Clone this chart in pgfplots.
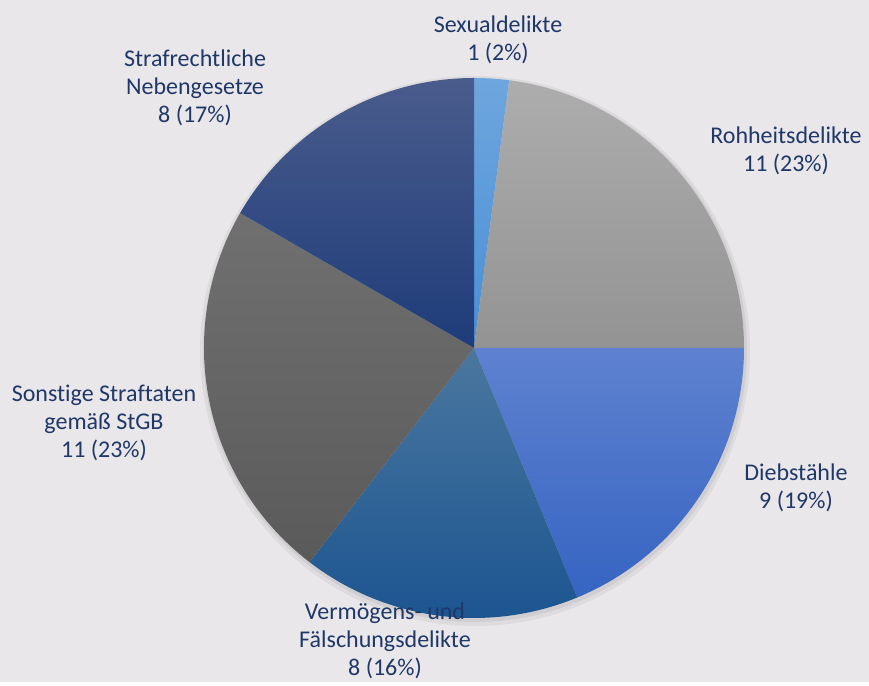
\documentclass[border=0pt]{standalone}
\usepackage{pgfplots}
\usepackage{pgfplotstable}
\usepackage{fontspec}
\setmainfont[Ligatures=NoCommon]{Carlito}
\pgfplotsset{compat=1.18}

\definecolor{bgc}{HTML}{E9E7E9}
\definecolor{txt}{HTML}{1F3868}
% slice gradients, top / bottom
\definecolor{top0}{HTML}{6EA6DE}\definecolor{bot0}{HTML}{4A8ED6}
\definecolor{top1}{HTML}{ADADAD}\definecolor{bot1}{HTML}{939393}
\definecolor{top2}{HTML}{5E82D0}\definecolor{bot2}{HTML}{3664C2}
\definecolor{top3}{HTML}{4A779F}\definecolor{bot3}{HTML}{1A5390}
\definecolor{top4}{HTML}{707070}\definecolor{bot4}{HTML}{5A5A5A}
\definecolor{top5}{HTML}{4A5C8C}\definecolor{bot5}{HTML}{1E3C7A}

\tikzset{lbl/.style={text=txt, align=center, font=\fontsize{12}{13.9}\selectfont}}

% clockwise from 12 o'clock
\pgfplotstableread{
value
1
11
9
8
11
8
}\pietable
\def\total{48}

\begin{document}
\begin{tikzpicture}
\begin{axis}[
	scale only axis,
	width=434.5pt,
	height=341pt,
	xmin=0, xmax=869,
	ymin=0, ymax=682,
	hide axis,
	clip=false]

	\fill[bgc] (rel axis cs:0,0) rectangle (rel axis cs:1,1);
	% soft shadow
	\fill[black, opacity=0.05] (axis cs:475,331) circle[radius=137.5pt];
	\fill[black, opacity=0.06] (axis cs:475,332) circle[radius=136pt];

	\gdef\cum{0}
	\pgfplotsinvokeforeach{0,...,5}{
		\pgfplotstablegetelem{#1}{value}\of\pietable
		\pgfmathtruncatemacro\val{\pgfplotsretval}
		\pgfmathsetmacro\angA{90-\cum/\total*360}
		\pgfmathtruncatemacro\newcum{\cum+\val}
		\xdef\cum{\newcum}
		\pgfmathsetmacro\angB{90-\cum/\total*360}
		\edef\temp{\noexpand\path[top color=top#1, bottom color=bot#1]
			(axis cs:474,334) -- ++(\angA:135pt)
			arc[start angle=\angA, end angle=\angB, radius=135pt] -- cycle;}
		\temp
	}

	\node[lbl] at (axis cs:498,642) {Sexualdelikte\\1 (2\%)};
	\node[lbl] at (axis cs:786,531) {Rohheitsdelikte\\11 (23\%)};
	\node[lbl] at (axis cs:796,194) {Diebstähle\\9 (19\%)};
	\node[lbl] at (axis cs:385,41) {Vermögens- und\\Fälschungsdelikte\\8 (16\%)};
	\node[lbl] at (axis cs:104,259) {Sonstige Straftaten\\gemäß StGB\\11 (23\%)};
	\node[lbl] at (axis cs:195,594) {Strafrechtliche\\Nebengesetze\\8 (17\%)};
\end{axis}
\end{tikzpicture}
\end{document}
